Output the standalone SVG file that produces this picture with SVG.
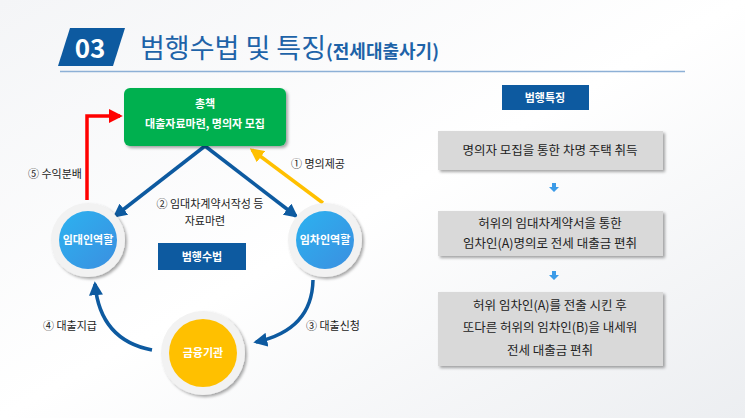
<svg xmlns="http://www.w3.org/2000/svg" width="745" height="418" viewBox="0 0 745 418">
<style>
text{font-family:"Noto Sans CJK KR","Noto Sans",sans-serif}
.w{fill:#fff;font-size:11px;text-anchor:middle;font-weight:bold}
.d{fill:#222;font-size:11px;text-anchor:middle}
.b{fill:#222;font-size:12.5px;text-anchor:middle}
.gb{fill:#d9d9d9;filter:url(#sh)}
</style>
<defs>
<linearGradient id="bg" x1="0" y1="0" x2="1" y2="1"><stop offset="0" stop-color="#f4f5f7"/><stop offset="0.5" stop-color="#ffffff"/><stop offset="1" stop-color="#eceef1"/></linearGradient>
<linearGradient id="bl" x1="0" y1="0" x2="1" y2="1"><stop offset="0" stop-color="#2cb2f0"/><stop offset="1" stop-color="#3b8fe0"/></linearGradient>
<filter id="sh" x="-20%" y="-20%" width="140%" height="150%"><feDropShadow dx="2" dy="2" stdDeviation="1.5" flood-opacity="0.35"/></filter>
<marker id="ab" viewBox="0 0 10 10" refX="8" refY="5" markerWidth="4" markerHeight="4" orient="auto"><path d="M0,0L10,5L0,10z" fill="#0d5aa0"/></marker>
<marker id="ay" viewBox="0 0 10 10" refX="8" refY="5" markerWidth="4" markerHeight="4" orient="auto"><path d="M0,0L10,5L0,10z" fill="#ffc000"/></marker>
<marker id="ar" viewBox="0 0 10 10" refX="8" refY="5" markerWidth="4" markerHeight="4" orient="auto"><path d="M0,0L10,5L0,10z" fill="#ff0000"/></marker>
</defs>
<rect width="745" height="418" fill="url(#bg)"/>
<g id="title">
<polygon points="70,28 125,28 113,66 58,66" fill="#0d5aa0"/>
<text x="90" y="58" fill="#fff" font-size="26" font-weight="bold" text-anchor="middle" font-family="Liberation Sans Narrow,Liberation Sans,sans-serif">03</text>
<text x="140" y="58"><tspan fill="#1e63a8" font-size="27">범행수법 및 특징</tspan><tspan fill="#1e63a8" font-size="18" font-weight="bold">(전세대출사기)</tspan></text>
<line x1="60" y1="71.5" x2="685" y2="71.5" stroke="#8db0d6" stroke-width="1.5"/>
</g>
<g id="connectors" fill="none" stroke-width="3.5">
<path d="M205,146 L115,216" stroke="#0d5aa0" marker-end="url(#ab)"/>
<path d="M205,146 L296,216" stroke="#0d5aa0" marker-end="url(#ab)"/>
<path d="M323,203 L252,150" stroke="#ffc000" marker-end="url(#ay)"/>
<path d="M87,200 L87,116 L120,116" stroke="#ff0000" marker-end="url(#ar)"/>
<path d="M313,280 Q312,330 256,342" stroke="#0d5aa0" marker-end="url(#ab)"/>
<path d="M152,350 Q100,340 95,284" stroke="#0d5aa0" marker-end="url(#ab)"/>
</g>
<g id="boss">
<rect x="124" y="88" width="162" height="58" rx="6" fill="#00b050" filter="url(#sh)"/>
<text class="w" x="205" y="108">총책</text>
<text class="w" x="205" y="128">대출자료마련, 명의자 모집</text>
</g>
<g id="landlord">
<circle cx="88" cy="240" r="37" fill="#f2f2f2" filter="url(#sh)"/>
<circle cx="88" cy="240" r="29" fill="url(#bl)"/>
<text class="w" x="88" y="244" font-size="12">임대인역할</text>
</g>
<g id="tenant">
<circle cx="325" cy="240" r="37" fill="#f2f2f2" filter="url(#sh)"/>
<circle cx="325" cy="240" r="29" fill="url(#bl)"/>
<text class="w" x="325" y="244" font-size="12">임차인역할</text>
</g>
<g id="bank">
<circle cx="203" cy="353" r="42" fill="#f2f2f2" filter="url(#sh)"/>
<circle cx="203" cy="353" r="34" fill="#ffc000"/>
<text class="w" x="203" y="357" font-size="12">금융기관</text>
</g>
<g id="labels">
<text class="d" x="55" y="178">⑤ 수익분배</text>
<text class="d" x="318" y="168">① 명의제공</text>
<text class="d" x="210" y="208">② 임대차계약서작성 등</text>
<text class="d" x="205" y="225">자료마련</text>
<text class="d" x="70" y="330">④ 대출지급</text>
<text class="d" x="333" y="330">③ 대출신청</text>
</g>
<g id="method">
<rect x="158" y="243" width="88" height="27" fill="#0d5aa0"/>
<text class="w" x="202" y="261" font-size="13">범행수법</text>
</g>
<g id="features-title">
<rect x="502" y="85" width="87" height="25" fill="#0d5aa0"/>
<text class="w" x="545" y="102" font-size="13">범행특징</text>
</g>
<g id="f1">
<rect class="gb" x="438" y="131" width="225" height="39"/>
<text class="b" x="550" y="155">명의자 모집을 통한 차명 주택 취득</text>
</g>
<g id="f2">
<rect class="gb" x="438" y="211" width="225" height="45"/>
<text class="b" x="550" y="228">허위의 임대차계약서을 통한</text>
<text class="b" x="550" y="248">임차인(A)명의로 전세 대출금 편취</text>
</g>
<g id="f3">
<rect class="gb" x="438" y="292" width="225" height="74"/>
<text class="b" x="550" y="310">허위 임차인(A)를 전출 시킨 후</text>
<text class="b" x="550" y="332">또다른 허위의 임차인(B)을 내세워</text>
<text class="b" x="550" y="355">전세 대출금 편취</text>
</g>
<g id="down-arrows" fill="#3b9be8">
<path d="M552,183 h4 v4 h3 l-5,5 l-5,-5 h3z"/>
<path d="M552,271 h4 v4 h3 l-5,5 l-5,-5 h3z"/>
</g>
</svg>
